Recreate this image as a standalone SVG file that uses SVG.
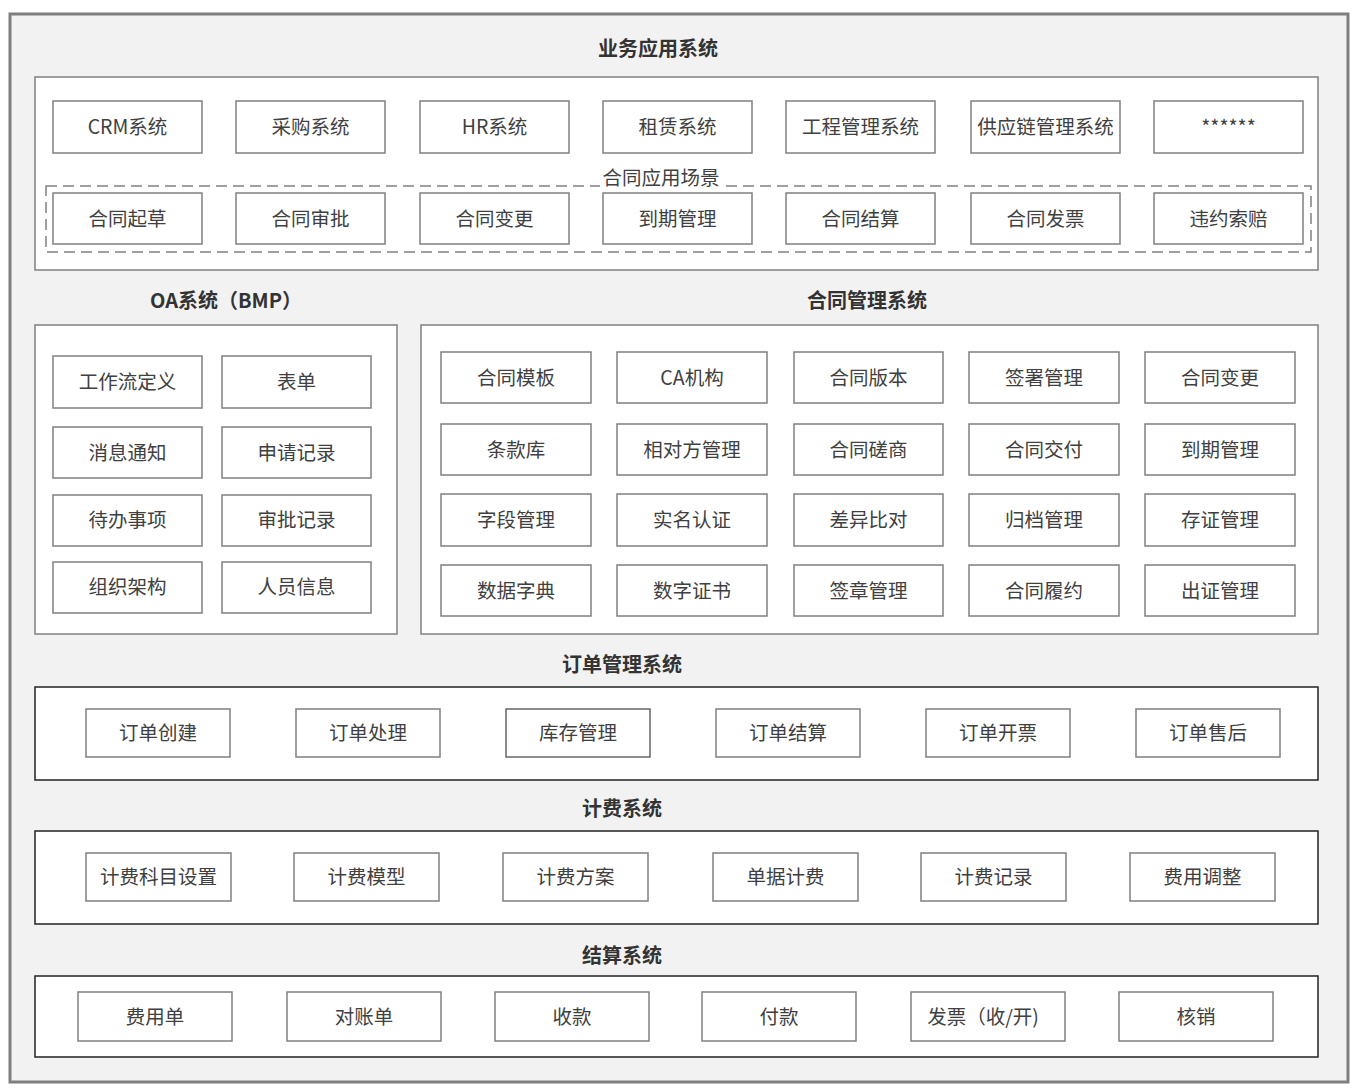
<svg xmlns="http://www.w3.org/2000/svg" width="1358" height="1092" viewBox="0 0 1358 1092">
<style>
.bg{fill:#f2f2f2;stroke:#7f7f7f;stroke-width:3}
.pg{fill:#fff;stroke:#808080;stroke-width:1.5}
.pd{fill:#fff;stroke:#222;stroke-width:1.5}
.n{fill:#fff;stroke:#808080;stroke-width:1.5}
.t{font-family:"Noto Sans CJK SC","Liberation Sans",sans-serif;font-size:19.5px;fill:#404040;text-anchor:middle;dominant-baseline:central;transform:translateY(-1.5px)}
.h{font-family:"Noto Sans CJK SC","Liberation Sans",sans-serif;font-size:20px;font-weight:bold;fill:#333;text-anchor:middle;dominant-baseline:central;transform:translateY(-1px)}
.dash{fill:none;stroke:#808080;stroke-width:1.5;stroke-dasharray:11 6}
</style>
<rect x="0" y="0" width="1358" height="1092" fill="#ffffff"/>
<rect class="bg" x="10" y="14" width="1338" height="1068"/>

<g id="biz">
<text class="h" x="658" y="48">业务应用系统</text>
<rect class="pg" x="35" y="77" width="1283" height="193"/>
<rect class="dash" x="46" y="186" width="1265" height="66"/>
<rect x="600" y="176" width="122" height="14" fill="#fff"/>
<text class="t" x="661" y="178">合同应用场景</text>
</g>
<g id="biz-nodes">
<g id="b1"><rect class="n" x="53" y="101" width="149" height="52"/><text class="t" x="127.5" y="127">CRM系统</text></g>
<g id="b2"><rect class="n" x="236" y="101" width="149" height="52"/><text class="t" x="310.5" y="127">采购系统</text></g>
<g id="b3"><rect class="n" x="420" y="101" width="149" height="52"/><text class="t" x="494.5" y="127">HR系统</text></g>
<g id="b4"><rect class="n" x="603" y="101" width="149" height="52"/><text class="t" x="677.5" y="127">租赁系统</text></g>
<g id="b5"><rect class="n" x="786" y="101" width="149" height="52"/><text class="t" x="860.5" y="127">工程管理系统</text></g>
<g id="b6"><rect class="n" x="971" y="101" width="149" height="52"/><text class="t" x="1045.5" y="127">供应链管理系统</text></g>
<g id="b7"><rect class="n" x="1154" y="101" width="149" height="52"/><text class="t" x="1228.5" y="127">******</text></g>
<g id="s1"><rect class="n" x="53" y="193" width="149" height="51"/><text class="t" x="127.5" y="219">合同起草</text></g>
<g id="s2"><rect class="n" x="236" y="193" width="149" height="51"/><text class="t" x="310.5" y="219">合同审批</text></g>
<g id="s3"><rect class="n" x="420" y="193" width="149" height="51"/><text class="t" x="494.5" y="219">合同变更</text></g>
<g id="s4"><rect class="n" x="603" y="193" width="149" height="51"/><text class="t" x="677.5" y="219">到期管理</text></g>
<g id="s5"><rect class="n" x="786" y="193" width="149" height="51"/><text class="t" x="860.5" y="219">合同结算</text></g>
<g id="s6"><rect class="n" x="971" y="193" width="149" height="51"/><text class="t" x="1045.5" y="219">合同发票</text></g>
<g id="s7"><rect class="n" x="1154" y="193" width="149" height="51"/><text class="t" x="1228.5" y="219">违约索赔</text></g>
</g>

<g id="oa">
<text class="h" x="226" y="300">OA系统（BMP）</text>
<rect class="pg" x="35" y="325" width="362" height="309"/>
<g id="o1"><rect class="n" x="53" y="356" width="149" height="52"/><text class="t" x="127.5" y="382">工作流定义</text></g>
<g id="o2"><rect class="n" x="222" y="356" width="149" height="52"/><text class="t" x="296.5" y="382">表单</text></g>
<g id="o3"><rect class="n" x="53" y="427" width="149" height="51"/><text class="t" x="127.5" y="453">消息通知</text></g>
<g id="o4"><rect class="n" x="222" y="427" width="149" height="51"/><text class="t" x="296.5" y="453">申请记录</text></g>
<g id="o5"><rect class="n" x="53" y="495" width="149" height="51"/><text class="t" x="127.5" y="520">待办事项</text></g>
<g id="o6"><rect class="n" x="222" y="495" width="149" height="51"/><text class="t" x="296.5" y="520">审批记录</text></g>
<g id="o7"><rect class="n" x="53" y="562" width="149" height="51"/><text class="t" x="127.5" y="587">组织架构</text></g>
<g id="o8"><rect class="n" x="222" y="562" width="149" height="51"/><text class="t" x="296.5" y="587">人员信息</text></g>
</g>

<g id="cms">
<text class="h" x="867" y="300">合同管理系统</text>
<rect class="pg" x="421" y="325" width="897" height="309"/>
<g id="c1"><rect class="n" x="441" y="352" width="150" height="51"/><text class="t" x="516" y="378">合同模板</text></g>
<g id="c2"><rect class="n" x="617" y="352" width="150" height="51"/><text class="t" x="692" y="378">CA机构</text></g>
<g id="c3"><rect class="n" x="794" y="352" width="149" height="51"/><text class="t" x="868.5" y="378">合同版本</text></g>
<g id="c4"><rect class="n" x="969" y="352" width="150" height="51"/><text class="t" x="1044" y="378">签署管理</text></g>
<g id="c5"><rect class="n" x="1145" y="352" width="150" height="51"/><text class="t" x="1220" y="378">合同变更</text></g>
<g id="c6"><rect class="n" x="441" y="424" width="150" height="51"/><text class="t" x="516" y="450">条款库</text></g>
<g id="c7"><rect class="n" x="617" y="424" width="150" height="51"/><text class="t" x="692" y="450">相对方管理</text></g>
<g id="c8"><rect class="n" x="794" y="424" width="149" height="51"/><text class="t" x="868.5" y="450">合同磋商</text></g>
<g id="c9"><rect class="n" x="969" y="424" width="150" height="51"/><text class="t" x="1044" y="450">合同交付</text></g>
<g id="c10"><rect class="n" x="1145" y="424" width="150" height="51"/><text class="t" x="1220" y="450">到期管理</text></g>
<g id="c11"><rect class="n" x="441" y="494" width="150" height="52"/><text class="t" x="516" y="520">字段管理</text></g>
<g id="c12"><rect class="n" x="617" y="494" width="150" height="52"/><text class="t" x="692" y="520">实名认证</text></g>
<g id="c13"><rect class="n" x="794" y="494" width="149" height="52"/><text class="t" x="868.5" y="520">差异比对</text></g>
<g id="c14"><rect class="n" x="969" y="494" width="150" height="52"/><text class="t" x="1044" y="520">归档管理</text></g>
<g id="c15"><rect class="n" x="1145" y="494" width="150" height="52"/><text class="t" x="1220" y="520">存证管理</text></g>
<g id="c16"><rect class="n" x="441" y="565" width="150" height="51"/><text class="t" x="516" y="591">数据字典</text></g>
<g id="c17"><rect class="n" x="617" y="565" width="150" height="51"/><text class="t" x="692" y="591">数字证书</text></g>
<g id="c18"><rect class="n" x="794" y="565" width="149" height="51"/><text class="t" x="868.5" y="591">签章管理</text></g>
<g id="c19"><rect class="n" x="969" y="565" width="150" height="51"/><text class="t" x="1044" y="591">合同履约</text></g>
<g id="c20"><rect class="n" x="1145" y="565" width="150" height="51"/><text class="t" x="1220" y="591">出证管理</text></g>
</g>

<g id="order">
<text class="h" x="622" y="664">订单管理系统</text>
<rect class="pd" x="35" y="687" width="1283" height="93"/>
<g id="d1"><rect class="n" x="86" y="709" width="144" height="48"/><text class="t" x="158" y="733">订单创建</text></g>
<g id="d2"><rect class="n" x="296" y="709" width="144" height="48"/><text class="t" x="368" y="733">订单处理</text></g>
<g id="d3"><rect class="n" x="506" y="709" width="144" height="48" style="stroke:#666"/><text class="t" x="578" y="733">库存管理</text></g>
<g id="d4"><rect class="n" x="716" y="709" width="144" height="48"/><text class="t" x="788" y="733">订单结算</text></g>
<g id="d5"><rect class="n" x="926" y="709" width="144" height="48"/><text class="t" x="998" y="733">订单开票</text></g>
<g id="d6"><rect class="n" x="1136" y="709" width="144" height="48"/><text class="t" x="1208" y="733">订单售后</text></g>
</g>

<g id="billing">
<text class="h" x="622" y="808">计费系统</text>
<rect class="pd" x="35" y="831" width="1283" height="93"/>
<g id="f1"><rect class="n" x="86" y="853" width="145" height="48"/><text class="t" x="158.5" y="877">计费科目设置</text></g>
<g id="f2"><rect class="n" x="294" y="853" width="145" height="48"/><text class="t" x="366.5" y="877">计费模型</text></g>
<g id="f3"><rect class="n" x="503" y="853" width="145" height="48"/><text class="t" x="575.5" y="877">计费方案</text></g>
<g id="f4"><rect class="n" x="713" y="853" width="145" height="48"/><text class="t" x="785.5" y="877">单据计费</text></g>
<g id="f5"><rect class="n" x="921" y="853" width="145" height="48"/><text class="t" x="993.5" y="877">计费记录</text></g>
<g id="f6"><rect class="n" x="1130" y="853" width="145" height="48"/><text class="t" x="1202.5" y="877">费用调整</text></g>
</g>

<g id="settle">
<text class="h" x="622" y="955">结算系统</text>
<rect class="pd" x="35" y="976" width="1283" height="81"/>
<g id="j1"><rect class="n" x="78" y="992" width="154" height="49"/><text class="t" x="155" y="1017">费用单</text></g>
<g id="j2"><rect class="n" x="287" y="992" width="154" height="49"/><text class="t" x="364" y="1017">对账单</text></g>
<g id="j3"><rect class="n" x="495" y="992" width="154" height="49"/><text class="t" x="572" y="1017">收款</text></g>
<g id="j4"><rect class="n" x="702" y="992" width="154" height="49"/><text class="t" x="779" y="1017">付款</text></g>
<g id="j5"><rect class="n" x="911" y="992" width="154" height="49"/><text class="t" x="983" y="1017">发票（收/开)</text></g>
<g id="j6"><rect class="n" x="1119" y="992" width="154" height="49"/><text class="t" x="1196" y="1017">核销</text></g>
</g>
<g id="connectors"></g>
</svg>
